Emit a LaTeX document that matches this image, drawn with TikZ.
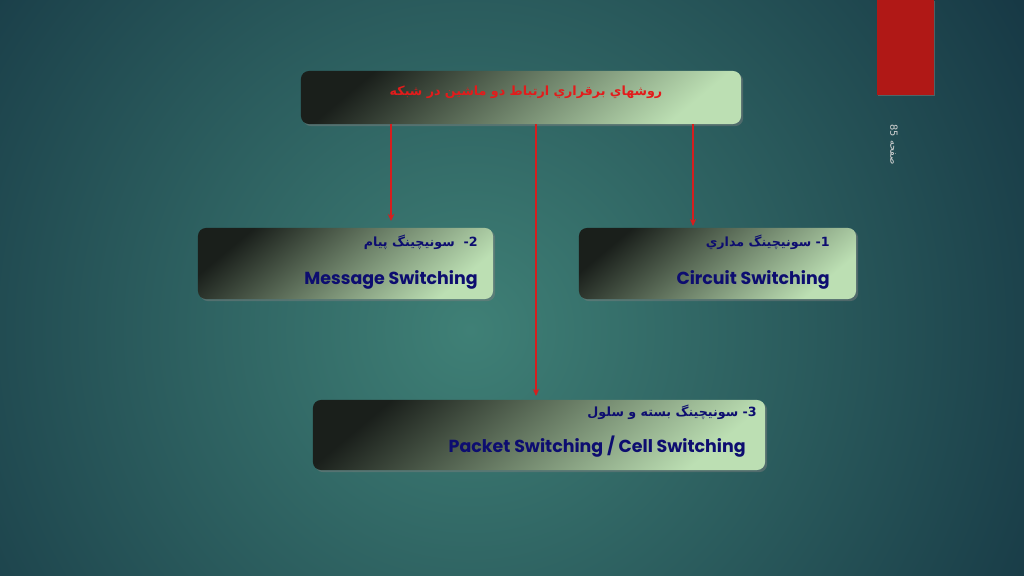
\documentclass[tikz,border=0pt]{standalone}
\usepackage{fontspec}
\setmainfont{Poppins}
\newfontfamily\farsi[Script=Arabic]{DejaVu Sans}
\TeXXeTstate=1
\usetikzlibrary{arrows.meta,shadows}
\definecolor{bglight}{HTML}{3F8076}
\definecolor{bgdark}{HTML}{12303F}
\definecolor{boxdark}{HTML}{1A1F1B}
\definecolor{boxlight}{HTML}{BCDFB3}
\definecolor{slidered}{HTML}{B01816}
\definecolor{titlered}{HTML}{E31B1B}
\definecolor{linkred}{HTML}{D61E1E}
\definecolor{navy}{HTML}{0D0D70}

\begin{document}
\begin{tikzpicture}[x=0.025cm, y=-0.025cm]
	\tikzstyle{box} = [rectangle, rounded corners=0.2cm, inner sep=0pt, left color=boxdark, right color=boxlight, shading angle=40, drop shadow={opacity=0.45, shadow xshift=1.5pt, shadow yshift=-1.5pt}]
	\tikzstyle{fa} = [text=navy, font=\farsi\bfseries\fontsize{9}{11}\selectfont, anchor=base east, inner sep=0pt]
	\tikzstyle{en} = [text=navy, font=\bfseries\fontsize{12.4}{15}\selectfont, anchor=base east, inner sep=0pt]
	\tikzstyle{link} = [draw=linkred, line width=1.2pt, -{Stealth[length=5pt, width=4.5pt]}]
	\useasboundingbox (0,0) rectangle (1024,576);
	% background
	\begin{scope}
		\clip (0,0) rectangle (1024,576);
		\shade[inner color=bglight, outer color=bgdark] (470,330) circle (720);
	\end{scope}
	\fill[slidered, drop shadow={opacity=0.5, shadow xshift=1pt, shadow yshift=-1pt}] (877,0) rectangle (934,95);
	\node[rotate=-90, text=gray!35!white, font=\farsi\fontsize{7}{8}\selectfont] (pagenum) at (894,145) {\beginR صفحه \beginL85\endL\endR};
	% boxes
	\node[box, minimum width=11cm, minimum height=1.325cm] (title) at (521,97.5) {};
	\node[box, minimum width=7.375cm, minimum height=1.775cm] (msg) at (345.5,263.5) {};
	\node[box, minimum width=6.925cm, minimum height=1.775cm] (circ) at (717.5,263.5) {};
	\node[box, minimum width=11.3cm, minimum height=1.75cm] (pkt) at (539,435) {};
	% labels
	\node[text=titlered, font=\farsi\bfseries\fontsize{9}{11}\selectfont] (titlelabel) at (526,92) {\beginR روشهاي برقراري ارتباط دو ماشين در شبكه\endR};
	\node[fa] (msgfa) at (478,247) {\beginR 2-\ \ سونيچينگ پيام\endR};
	\node[en] (msgen) at (478,285) {Message Switching};
	\node[fa] (circfa) at (830,247) {\beginR 1- سونيچينگ مداري\endR};
	\node[en] (circen) at (830,285) {Circuit Switching};
	\node[fa] (pktfa) at (757,416) {\beginR 3- سونيچينگ بسته و سلول\endR};
	\node[en] (pkten) at (746,452) {Packet Switching / Cell Switching};
	% links
	\coordinate (msgtip) at (391,221);
	\coordinate (circtip) at (693,226);
	\coordinate (pkttip) at (536,396);
	\draw[link] (title.south -| msgtip) -- (msgtip);
	\draw[link] (title.south -| circtip) -- (circtip);
	\draw[link] (title.south -| pkttip) -- (pkttip);
\end{tikzpicture}
\end{document}
